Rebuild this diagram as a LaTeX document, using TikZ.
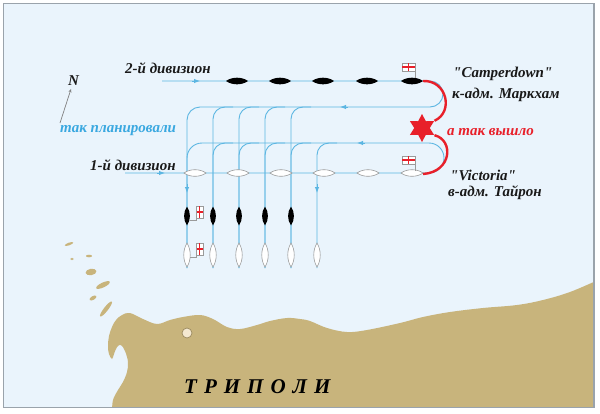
\documentclass[tikz,border=0pt]{standalone}
\usepackage{fontspec}
\setmainfont{Liberation Serif}[Ligatures=TeXOff]
\usetikzlibrary{shapes.geometric,arrows.meta}
\definecolor{sea}{HTML}{EAF4FC}
\definecolor{landc}{HTML}{C8B47C}
\definecolor{trk}{HTML}{5CB6E2}
\definecolor{redc}{HTML}{E8202A}
\definecolor{framec}{HTML}{9AA3AB}
\definecolor{labblue}{HTML}{3AA8E0}
\definecolor{shipgray}{HTML}{9A9A9A}
\definecolor{cityfill}{HTML}{F4E8D0}
\definecolor{cityedge}{HTML}{9C8A60}
\tikzset{
  track/.style={draw=trk, line width=0.9pt},
  tip/.style={-{Latex[length=6pt,width=4.5pt]}},
  redline/.style={draw=redc, line width=2.4pt},
  lab/.style={font=\fontsize{15}{17}\selectfont\bfseries\itshape, inner sep=0pt, text=black!90},
  wship/.style={fill=white, draw=shipgray, line width=0.6pt},
  hship/.pic={\path[pic actions] (-11,0) .. controls (-5,-4.4) and (5,-4.4) .. (11,0) .. controls (5,4.4) and (-5,4.4) .. (-11,0) -- cycle;},
  vshipb/.pic={\path[pic actions] (0,-9.5) .. controls (3.9,-4) and (3.9,4) .. (0,9.5) .. controls (-3.9,4) and (-3.9,-4) .. (0,-9.5) -- cycle;},
  vshipw/.pic={\path[pic actions] (0,-12) .. controls (4.3,-5) and (4.3,5) .. (0,12) .. controls (-4.3,5) and (-4.3,-5) .. (0,-12) -- cycle;},
  hflag/.pic={
    \draw[shipgray, line width=0.6pt, fill=white] (-6.5,-4) rectangle (6.5,4);
    \draw[redc, line width=1.5pt] (0,-4) -- (0,4) (-6.5,0) -- (6.5,0);
    \draw[shipgray, line width=0.6pt] (6.5,-4) -- (6.5,11);},
  vflag/.pic={
    \draw[shipgray, line width=0.6pt, fill=white] (-3.5,-6) rectangle (3.5,6);
    \draw[redc, line width=1.5pt] (0,-6) -- (0,6) (-3.5,0) -- (3.5,0);
    \draw[shipgray, line width=0.6pt] (-3.5,-6) -- (-3.5,8) -- (-10,8);}
}
\begin{document}
\begin{tikzpicture}[x=1pt,y=-1pt]
\useasboundingbox (0,0) rectangle (600,413);
\fill[white] (0,0) rectangle (600,413);
\fill[sea] (3.5,3.5) rectangle (594,407.5);
% land
\begin{scope}
\clip (3.5,3.5) rectangle (594,407.5);
\fill[landc] plot[smooth, tension=0.6] coordinates {(112,412) (113,400) (118,390) (123,382) (127,372) (128,362) (125,351) (121,345) (117,347) (114,354) (112,359) (109,354) (108,346) (109,336) (112,327) (116,320) (122,315) (130,313) (143,319) (157,324) (170,320) (183,317) (200,315) (213,319) (227,327) (240,329) (257,325) (270,321) (287,318) (300,319) (310,321) (327,328) (347,332) (367,330) (400,323) (423,317) (450,312) (483,308) (517,305) (543,300) (570,292) (598,280)} -- (598,412) -- cycle;
\end{scope}
% islands
\fill[landc, rotate around={20:(69,244)}] (69,244) ellipse [x radius=4.5, y radius=1.3];
\fill[landc] (72,259) ellipse [x radius=1.8, y radius=1.2];
\fill[landc] (89,256) ellipse [x radius=3, y radius=1.3];
\fill[landc, rotate around={10:(91,272)}] (91,272) ellipse [x radius=5.5, y radius=3.2];
\fill[landc, rotate around={25:(103,285)}] (103,285) ellipse [x radius=7.5, y radius=2.4];
\fill[landc, rotate around={30:(93,298)}] (93,298) ellipse [x radius=3.8, y radius=1.9];
\fill[landc, rotate around={52:(106,309)}] (106,309) ellipse [x radius=9.5, y radius=2.1];
\node[circle, draw=cityedge, fill=cityfill, minimum size=10pt, inner sep=0pt, line width=0.7pt] (tripcity) at (187,333) {};
\node[anchor=base west, inner sep=0pt, font=\fontsize{21}{24}\selectfont\bfseries\itshape] (tripoli) at (184,393) {Т\hspace{7pt}Р\hspace{7pt}И\hspace{7pt}П\hspace{7pt}О\hspace{7pt}Л\hspace{7pt}И};
% tracks
\draw[track, rounded corners=13] (162,81) -- (443,81) -- (443,107) -- (187,107) -- (187,268);
\foreach \x in {213,239,265,291} \draw[track, rounded corners=12] (\x+20,107) -- (\x,107) -- (\x,268);
\draw[track, rounded corners=15] (125,173) -- (444,173) -- (444,143) -- (187,143) -- (187,268);
\foreach \x in {213,239,265,291,317} \draw[track, rounded corners=12] (\x+20,143) -- (\x,143) -- (\x,268);
\draw[track, tip] (192,81) -- (200,81);
\draw[track, tip] (157,173) -- (165,173);
\draw[track, tip] (348,107) -- (340,107);
\draw[track, tip] (365,143) -- (357,143);
\draw[track, tip] (187,184) -- (187,193);
\draw[track, tip] (317,184) -- (317,193);
% ships
\foreach \x in {237,280,323,367,412} \pic[fill=black] at (\x,81) {hship};
\foreach \x in {195,238,281,324,368,412} \pic[wship] at (\x,173) {hship};
\foreach \x in {187,213,239,265,291} \pic[fill=black] at (\x,216) {vshipb};
\foreach \x in {187,213,239,265,291,317} \pic[wship] at (\x,255) {vshipw};
\pic at (408.5,67) {hflag};
\pic at (408.5,160) {hflag};
\pic at (199.5,212) {vflag};
\pic at (199.5,249) {vflag};
% collision
\coordinate (camp) at (423,81);
\coordinate (vict) at (423,174);
\node[star, star points=6, star point ratio=1.8, fill=redc, minimum size=28pt, inner sep=0pt] (boom) at (422,128) {};
\draw[redline] (camp) .. controls (447,80) and (454,112) .. (boom.30);
\draw[redline] (boom.-30) .. controls (454,140) and (452,172) .. (vict);
% compass
\coordinate (cbase) at (60,123);
\coordinate (ctop) at (71,89);
\draw[gray, line width=0.7pt, -{Stealth[length=3.5pt,width=3pt]}] (cbase) -- (ctop);
\node[lab, anchor=base west] (north) at (68,85) {N};
% labels
\node[lab, anchor=base west] (div2) at (125,73) {2-й дивизион};
\node[lab, anchor=base west, text=labblue] (plan) at (60,132) {так планировали};
\node[lab, anchor=base west] (div1) at (90,170) {1-й дивизион};
\node[lab, anchor=base west] (cname) at (453,77) {"Camperdown"};
\node[lab, anchor=base west] (cadm) at (452,98) {к-адм. Маркхам};
\node[lab, anchor=base west, text=redc] (real) at (447,135) {а так вышло};
\node[lab, anchor=base west] (vname) at (450,180) {"Victoria"};
\node[lab, anchor=base west] (vadm) at (448,196) {в-адм. Тайрон};
% frame
\draw[framec, line width=1.3pt] (3.5,3.5) rectangle (594,407.5);
\end{tikzpicture}
\end{document}
